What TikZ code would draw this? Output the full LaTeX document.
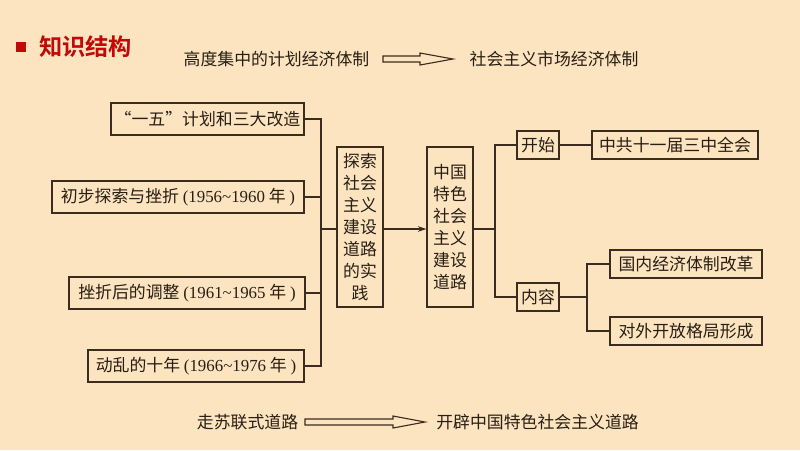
\documentclass[tikz,border=0pt]{standalone}
\usepackage{fontspec}
\setmainfont{Liberation Serif}
\newfontfamily\cjk{Noto Sans CJK SC}
\newfontfamily\cjkb{Noto Sans CJK SC Bold}
\usetikzlibrary{arrows.meta,calc}
\definecolor{bg}{RGB}{252,228,192}
\definecolor{lc}{RGB}{60,44,30}
\definecolor{tc}{RGB}{40,30,20}
\definecolor{hred}{RGB}{192,10,10}
\begin{document}
\begin{tikzpicture}[x=0.025cm,y=-0.025cm,
  box/.style={draw=lc,line width=0.9pt,inner sep=0pt,text=tc,align=center,
    font=\cjk\fontsize{12}{15.6}\selectfont},
  lbl/.style={inner sep=0pt,text=tc,font=\cjk\fontsize{12}{14}\selectfont},
  conn/.style={draw=lc,line width=0.9pt},
  hollow/.style={draw=lc,line width=0.8pt,line join=miter}]
\fill[bg] (0,0) rectangle (800,450);
\useasboundingbox (0,0) rectangle (800,450);
% header
\fill[hred] (16,42) rectangle (26,52);
\node[inner sep=0pt,text=hred,font=\cjkb\fontsize{16.5}{18}\selectfont,anchor=west] (title) at (39,47) {知识结构};
% top line
\node[lbl] (t1) at (276.5,59) {高度集中的计划经济体制};
\node[lbl] (t2) at (554,59) {社会主义市场经济体制};
\draw[hollow] (383,56)--(420,56)--(420,53)--(453,59)--(420,65)--(420,62)--(383,62)--cycle;
% bottom line
\node[lbl] (u1) at (247.5,422) {走苏联式道路};
\node[lbl] (u2) at (537.5,422) {开辟中国特色社会主义道路};
\draw[hollow] (305,419)--(393,419)--(393,416)--(425,422)--(393,428)--(393,425)--(305,425)--cycle;
% left boxes
\node[box,minimum width=4.825cm,minimum height=0.8cm] (b1) at (207.5,119) {“一五”计划和三大改造};
\node[box,minimum width=6.3cm,minimum height=0.8cm] (b2) at (178,197) {初步探索与挫折 {\rmfamily (1956\textasciitilde 1960} 年 {\rmfamily )}};
\node[box,minimum width=5.9cm,minimum height=0.8cm] (b3) at (187,293) {挫折后的调整 {\rmfamily (1961\textasciitilde 1965} 年 {\rmfamily )}};
\node[box,minimum width=5.4cm,minimum height=0.8cm] (b4) at (196,366) {动乱的十年 {\rmfamily (1966\textasciitilde 1976} 年 {\rmfamily )}};
% tall boxes
\node[box,minimum width=1.15cm,minimum height=4cm] (ts) at (360,227) {探索\\社会\\主义\\建设\\道路\\的实\\践};
\node[box,minimum width=1.15cm,minimum height=4cm] (zg) at (450,227) {中国\\特色\\社会\\主义\\建设\\道路};
% right boxes
\node[box,minimum width=1.05cm,minimum height=0.7cm] (ks) at (538,145) {开始};
\node[box,minimum width=4.15cm,minimum height=0.7cm] (zh) at (675,145) {中共十一届三中全会};
\node[box,minimum width=1.05cm,minimum height=0.7cm] (nr) at (538,297) {内容};
\node[box,minimum width=3.8cm,minimum height=0.7cm] (gn) at (686,264) {国内经济体制改革};
\node[box,minimum width=3.8cm,minimum height=0.7cm] (dw) at (686,331) {对外开放格局形成};
% junctions
\coordinate (j0) at (321,229);
\coordinate (j1) at (495,229);
\coordinate (j2) at (587,297);
% connectors
\draw[conn] (b1.east) -| (j0);
\draw[conn] (b2.east) -| (j0);
\draw[conn] (b3.east) -| (j0);
\draw[conn] (b4.east) -| (j0);
\draw[conn] (j0) -- (ts.west |- j0);
\draw[conn,-{Stealth[length=6pt,width=4pt]}] (ts.east |- j0) -- (zg.west |- j0);
\draw[conn] (zg.east |- j1) -- (j1);
\draw[conn] (ks.west) -| (j1) |- (nr.west);
\draw[conn] (ks.east) -- (zh.west);
\draw[conn] (nr.east) -- (j2);
\draw[conn] (gn.west) -| (j2) |- (dw.west);
\end{tikzpicture}
\end{document}
